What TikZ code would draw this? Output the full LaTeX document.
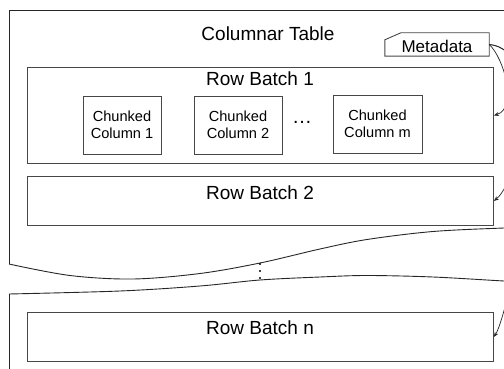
\documentclass[tikz,border=0pt]{standalone}
\usepackage{fontspec}
\setmainfont{Liberation Sans}
\usetikzlibrary{arrows.meta}
\begin{document}
\begin{tikzpicture}[x=1pt,y=-1pt,
  outline/.style={draw=black!85, line width=0.9pt},
  box/.style={draw=black!72, line width=0.9pt, fill=white, inner sep=0pt},
  colbox/.style={box, minimum height=58pt, align=center,
    font=\fontsize{14.6}{17.5}\selectfont},
  rowbox/.style={box, minimum width=466pt, anchor=north west},
  bigtext/.style={anchor=base, font=\fontsize{19}{22}\selectfont},
  conn/.style={draw=black!85, line width=0.7pt,
    -{Stealth[length=5pt,width=4pt]}},
]
\useasboundingbox (0,0) rectangle (504,369);
\clip (0,0) rectangle (504,369);

% upper part of the table, with its torn lower edge
\draw[outline] (9,264) -- (9,10) -- (530,10);
\draw[outline] plot[smooth, tension=0.55] coordinates
  {(9,264) (70,275.5) (133,279) (200,273.5) (260,263) (320,249)
   (367,239.5) (433,231.5) (504,228) (530,227.5)};

% lower part of the table
\draw[outline] (9,380) -- (9,294);
\draw[outline] plot[smooth, tension=0.55] coordinates
  {(9,294) (120,291) (200,286) (260,280) (320,277)
   (367,275.5) (433,277) (504,281) (530,282)};

% vertical ellipsis across the gap
\foreach \yy in {264,271,278}
  \fill[black] (260,\yy) circle (1.2pt);

% title
\node[bigtext] (title) at (268,41) {Columnar Table};

% metadata card
\node[minimum width=104pt, minimum height=23pt, inner sep=0pt] (meta) at (437,44.5) {};
\draw[box] (meta.south west) -- ([yshift=-7pt]meta.north west)
  -- ([xshift=16pt]meta.north west) -- (meta.north east)
  -- (meta.south east) -- cycle;
\node[anchor=base, font=\fontsize{17}{20}\selectfont] (metalabel) at (437,53) {Metadata};

% row batches
\node[rowbox, minimum height=96pt] (rb1) at (27,67) {};
\node[bigtext] (rb1label) at (260,86) {Row Batch 1};
\node[rowbox, minimum height=49pt] (rb2) at (27,176) {};
\node[bigtext] (rb2label) at (260,199) {Row Batch 2};
\node[rowbox, minimum height=49pt] (rbn) at (27,312) {};
\node[bigtext] (rbnlabel) at (260,334) {Row Batch n};

% chunked columns
\node[colbox, minimum width=78pt] (c1) at (122,125) {Chunked\\Column 1};
\node[colbox, minimum width=88pt] (c2) at (238,125) {Chunked\\Column 2};
\node[colbox, minimum width=89pt] (cm) at (377.5,124) {Chunked\\Column m};
\node[anchor=base, font=\fontsize{20}{24}\selectfont] (cdots) at (302,124) {\ldots};

% metadata references
\draw[conn] (meta.east) .. controls (504,58) and (518,108) .. (rb1.east);
\draw[conn] (meta.east) .. controls (545,50) and (520,180) .. (rb2.east);
\draw[conn] (meta.east) .. controls (565,50) and (510,312) .. (rbn.east);
\end{tikzpicture}
\end{document}
